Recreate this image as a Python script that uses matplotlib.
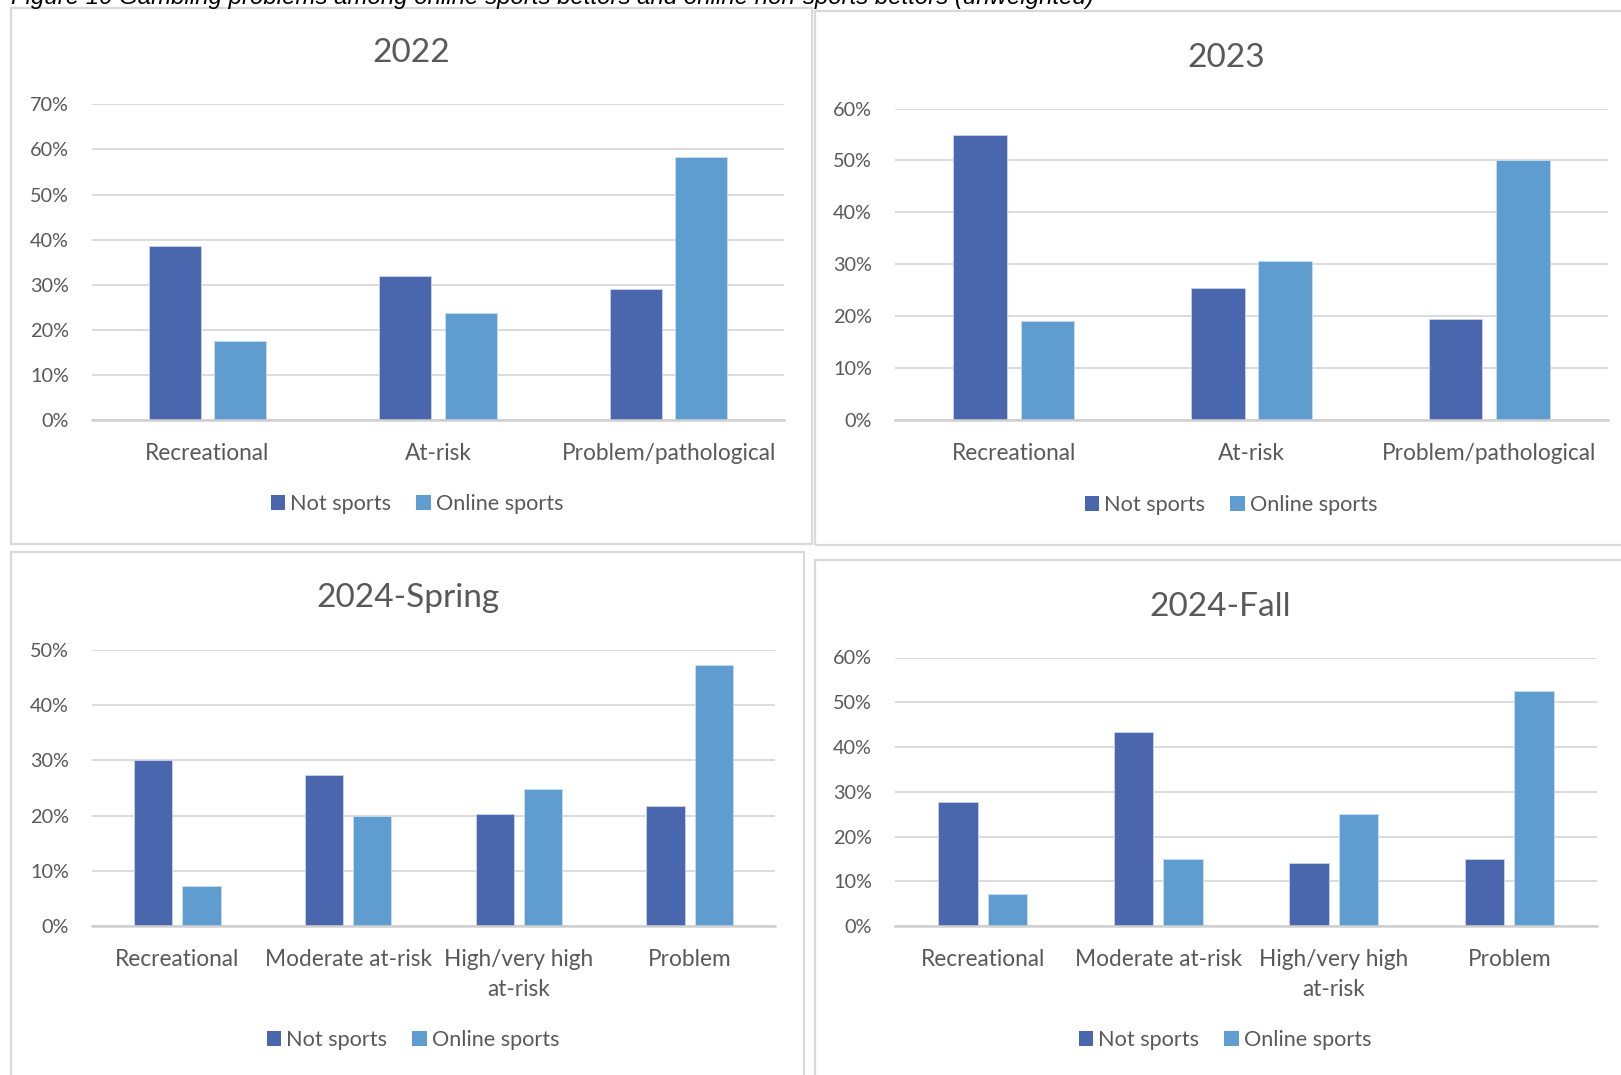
import matplotlib
matplotlib.use("Agg")
import matplotlib.pyplot as plt
import numpy as np
from matplotlib.patches import Rectangle, Patch
from matplotlib.ticker import FuncFormatter, MultipleLocator

# ---------------- data ----------------
series_names = ["Not sports", "Online sports"]

cats_2022 = ["Recreational", "At-risk", "Problem/pathological"]
not_2022 = [38.6, 31.9, 29.0]
online_2022 = [17.6, 23.8, 58.3]

cats_2023 = ["Recreational", "At-risk", "Problem/pathological"]
not_2023 = [54.9, 25.5, 19.5]
online_2023 = [19.1, 30.7, 50.1]

cats_2024s = ["Recreational", "Moderate at-risk", "High/very high\nat-risk", "Problem"]
not_2024s = [30.1, 27.3, 20.3, 21.7]
online_2024s = [7.3, 20.0, 24.9, 47.3]

cats_2024f = ["Recreational", "Moderate at-risk", "High/very high\nat-risk", "Problem"]
not_2024f = [27.6, 43.3, 14.1, 15.0]
online_2024f = [7.2, 15.0, 25.0, 52.5]

caption = ("Figure 10 Gambling problems among online sports bettors and "
           "online non-sports bettors (unweighted)")

# ---------------- style ----------------
W, H = 1621, 1075
C_NOT = "#4A66AC"
C_ONL = "#5F9DD1"
TXT = "#595959"
GRID = "#D9D9D9"
FONT = ["Lato", "DejaVu Sans"]
plt.rcParams["font.family"] = FONT

fig = plt.figure(figsize=(W / 100, H / 100), dpi=100)


def fx(x):
    return x / W


def fy(y):
    return 1 - y / H


# panel borders (left, top, right, bottom) in pixels
borders = [(11, 8, 812, 544), (815, 11, 1625, 545),
           (11, 552, 804, 1080), (815, 560, 1625, 1080)]
for (l, t, r, b) in borders:
    fig.patches.append(Rectangle((fx(l), fy(b)), fx(r) - fx(l), fy(t) - fy(b),
                                 transform=fig.transFigure, fill=False,
                                 edgecolor="#D9D9D9", linewidth=1.6, zorder=0))

fig.text(fx(11), fy(4), caption, ha="left", va="baseline", fontsize=17.3,
         style="italic", family=["Liberation Sans", "DejaVu Sans"], color="black")

panels = [
    dict(title="2022", cats=cats_2022, a=not_2022, b=online_2022, ymax=70,
         box=(92, 784, 104.4, 420), title_xy=(411, 53), leg_xy=(417, 504)),
    dict(title="2023", cats=cats_2023, a=not_2023, b=online_2023, ymax=60,
         box=(895, 1608, 108.5, 420), title_xy=(1226, 58), leg_xy=(1231, 505)),
    dict(title="2024-Spring", cats=cats_2024s, a=not_2024s, b=online_2024s, ymax=50,
         box=(92, 775, 650, 926), title_xy=(408, 598), leg_xy=(413, 1040)),
    dict(title="2024-Fall", cats=cats_2024f, a=not_2024f, b=online_2024f, ymax=60,
         box=(895, 1597, 657.5, 926), title_xy=(1220, 607), leg_xy=(1225, 1040)),
]

w = 0.225
d = 0.1415
for p in panels:
    l, r, t, b = p["box"]
    ax = fig.add_axes([fx(l), fy(b), fx(r) - fx(l), fy(t) - fy(b)])
    x = np.arange(len(p["cats"]))
    ax.bar(x - d, p["a"], width=w, color=C_NOT, edgecolor="#c9d5ec", linewidth=0.6, zorder=3)
    ax.bar(x + d, p["b"], width=w, color=C_ONL, edgecolor="#c9deef", linewidth=0.6, zorder=3)
    ax.set_xlim(-0.5, len(p["cats"]) - 0.5)
    ax.set_ylim(0, p["ymax"])
    ax.yaxis.set_major_locator(MultipleLocator(10))
    ax.yaxis.set_major_formatter(FuncFormatter(lambda v, _: f"{v:.0f}%"))
    ax.grid(axis="y", color=GRID, linewidth=1.3, zorder=0)
    ax.set_axisbelow(True)
    for s in ["left", "right", "top"]:
        ax.spines[s].set_visible(False)
    ax.spines["bottom"].set_color("#D0D0D0")
    ax.spines["bottom"].set_linewidth(1.8)
    ax.spines["bottom"].set_zorder(4)
    ax.set_xticks(x)
    ax.set_xticklabels(p["cats"], linespacing=1.55)
    ax.tick_params(axis="x", length=0, pad=16.5, labelsize=16.3, labelcolor=TXT)
    ax.tick_params(axis="y", length=0, pad=16.5, labelsize=14.3, labelcolor=TXT)
    ax.set_facecolor("none")
    tx, ty = p["title_xy"]
    fig.text(fx(tx), fy(ty), p["title"], ha="center", va="center",
             fontsize=24, color=TXT)
    handles = [Patch(facecolor=C_NOT, edgecolor="none"),
               Patch(facecolor=C_ONL, edgecolor="none")]
    lx, ly = p["leg_xy"]
    fig.legend(handles, series_names, loc="center", bbox_to_anchor=(fx(lx), fy(ly)),
               ncol=2, frameon=False, fontsize=15.6, labelcolor=TXT,
               handlelength=0.66, handleheight=0.66, handletextpad=0.25,
               columnspacing=1.15, borderpad=0, borderaxespad=0)

fig.savefig("out.png", dpi=100)
